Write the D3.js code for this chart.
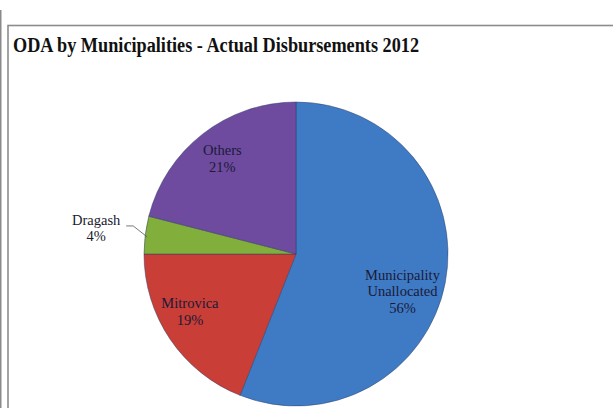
<!DOCTYPE html>
<html><head><meta charset="utf-8">
<script src="https://cdn.jsdelivr.net/npm/d3@7"></script>
<style>
html,body{margin:0;padding:0;background:#fff;}
svg{display:block;}
text{font-family:"Liberation Serif","Times New Roman",serif;}
</style></head>
<body>
<svg id="c" width="613" height="408"></svg>
<script>
const title = "ODA by Municipalities - Actual Disbursements 2012";
const categories = ["Municipality Unallocated", "Mitrovica", "Dragash", "Others"];
const labelLines = [["Municipality","Unallocated"], ["Mitrovica"], ["Dragash"], ["Others"]];
const values = [56, 19, 4, 21];

const colors = ["#4c8cd8", "#e04a42", "#96c44c", "#8059b2"];
const colorsLight = ["#5596de", "#e6584f", "#a0cc58", "#8a63ba"];
const colorsDark = ["#3f7bc4", "#c93e36", "#82ae3b", "#6e4b9e"];
const labelNudge = [[-10, 16], [-8, -8], [0, 0], [-1, -1]];

const svg = d3.select("#c");
const W = 613, H = 408;

// outer lines
svg.append("line").attr("x1",0.75).attr("x2",0.75).attr("y1",10).attr("y2",H)
  .attr("stroke","#8a8a8a").attr("stroke-width",1.5);
svg.append("rect").attr("x",8).attr("y",25.5).attr("width",W).attr("height",H)
  .attr("fill","#fff").attr("stroke","#8c8c8c").attr("stroke-width",1.6);

svg.append("text").attr("x",13).attr("y",52).attr("font-size",20).attr("font-weight","bold")
  .attr("textLength",406).attr("lengthAdjust","spacingAndGlyphs")
  .attr("fill","#111").text(title);

const cx = 296, cy = 254, r = 152;
const defs = svg.append("defs");
colors.forEach((c,i)=>{
  const g = defs.append("radialGradient").attr("id","g"+i)
    .attr("gradientUnits","userSpaceOnUse").attr("cx",cx).attr("cy",cy-10).attr("r",r*1.08);
  g.append("stop").attr("offset","0%").attr("stop-color",colorsLight[i]);
  g.append("stop").attr("offset","82%").attr("stop-color",c);
  g.append("stop").attr("offset","100%").attr("stop-color",colorsDark[i]);
});

const pie = d3.pie().sort(null).value(d=>d)(values);
const arc = d3.arc().innerRadius(0).outerRadius(r);
const g = svg.append("g").attr("transform",`translate(${cx},${cy})`);
g.selectAll("path").data(pie).join("path")
  .attr("d",arc).attr("fill",(d,i)=>`url(#g${i})`)
  .attr("stroke","#2c3a66").attr("stroke-width",0.8).attr("stroke-opacity",0.6);

const lblArc = d3.arc().innerRadius(r*0.78).outerRadius(r*0.78);
const fs = 14.5, lh = 16.5;
pie.forEach((d,i)=>{
  const pct = Math.round(values[i]/d3.sum(values)*100)+"%";
  const lines = labelLines[i].concat([pct]);
  if (categories[i] === "Dragash") {
    const a = (d.startAngle+d.endAngle)/2;
    const ex = Math.sin(a)*r, ey = -Math.cos(a)*r;
    const p1 = [ex+2, ey+2], p2 = [ex-12, ey-9], p3 = [ex-19, ey-9];
    g.append("polyline").attr("points",[p1,p2,p3].map(p=>p.join(",")).join(" "))
      .attr("fill","none").attr("stroke","#555").attr("stroke-width",0.8);
    const t = g.append("text").attr("text-anchor","middle").attr("font-size",fs).attr("fill","#1a1a2e");
    lines.forEach((ln,k)=>t.append("tspan").attr("x",p3[0]-30).attr("y",p3[1]-1+k*lh).text(ln));
  } else {
    const [lx,ly] = lblArc.centroid(d);
    const x = lx+labelNudge[i][0], y = ly+labelNudge[i][1];
    const t = g.append("text").attr("text-anchor","middle").attr("font-size",fs).attr("fill","#1a1a3a");
    const y0 = y - (lines.length-1)*lh/2 + 4;
    lines.forEach((ln,k)=>t.append("tspan").attr("x",x).attr("y",y0+k*lh).text(ln));
  }
});
</script>
</body></html>
